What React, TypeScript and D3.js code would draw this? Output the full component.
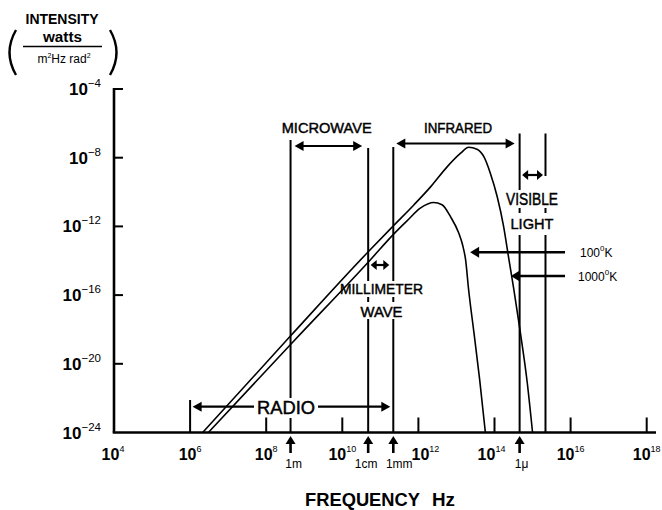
import React from 'react';
import * as d3 from 'd3';

// exponents (10^n)
const FREQ_TICKS = [4, 6, 8, 10, 12, 14, 16, 18];
const INTENSITY_TICKS = [-4, -8, -12, -16, -20, -24];
const WAVE_LABELS = ['1m', '1cm', '1mm', '1\u03bc'];
const WAVE_FREQS = [8.64, 10.68, 11.34, 14.66];
const RADIO_EDGE = 6.0;
const VISIBLE_EDGE = 15.34;
const TEMP_LABELS = ['100', '1000'];
const TEMP_ARROW_TIPS = [13.36, 14.43];

// [log10 freq, log10 intensity]
const CURVE_1000K: [number, number][] = [
  [6.33, -24], [8.63, -18.4], [10.65, -13.55], [11.35, -11.95], [11.88, -10.75],
  [12.32, -9.7], [12.76, -8.52], [13.11, -7.74], [13.32, -7.39], [13.54, -7.51],
  [13.72, -7.94], [13.89, -8.9], [14.07, -10.26], [14.24, -12.01], [14.38, -13.94],
  [14.51, -15.69], [14.68, -18.19], [14.86, -21.09], [15.0, -24],
];
const CURVE_100K: [number, number][] = [
  [6.48, -24], [8.72, -18.69], [10.74, -13.94], [11.35, -12.45], [11.7, -11.68],
  [12.05, -10.94], [12.4, -10.61], [12.62, -10.74], [12.84, -11.42], [13.06, -12.39],
  [13.16, -13.07], [13.24, -13.94], [13.32, -15.69], [13.46, -18.19], [13.61, -20.92],
  [13.76, -24],
];

const FONT = '"Liberation Sans", Arial, Helvetica, sans-serif';

const x = d3.scaleLinear().domain([4, 18]).range([114, 646.7]);
const y = d3.scaleLinear().domain([-24, -4]).range([432.5, 89]);

// small nudges so labels sit like the scan
const WAVE_LABEL_SHIFT = [3, -2, 6, 2];
const FREQ_LABEL_SHIFT: Record<number, number> = { 4: -1, 12: 7, 14: -3 };

function head(px: number, py: number, dir: 'l' | 'r' | 'u', len: number, half: number) {
  if (dir === 'l') return `M${px},${py}L${px + len},${py - half}L${px + len},${py + half}Z`;
  if (dir === 'r') return `M${px},${py}L${px - len},${py - half}L${px - len},${py + half}Z`;
  return `M${px},${py}L${px - half},${py + len}L${px + half},${py + len}Z`;
}

function DoubleArrow({ x1, x2, yy, len = 9, half = 5 }: any) {
  return (
    <g>
      <line x1={x1 + len - 1} x2={x2 - len + 1} y1={yy} y2={yy} stroke="#000" strokeWidth={2.2} />
      <path d={head(x1, yy, 'l', len, half)} fill="#000" />
      <path d={head(x2, yy, 'r', len, half)} fill="#000" />
    </g>
  );
}

function VSegs({ xx, segs }: { xx: number; segs: [number, number][] }) {
  return (
    <g>
      {segs.map((s, i) => (
        <line key={i} x1={xx} x2={xx} y1={s[0]} y2={s[1]} stroke="#000" strokeWidth={2} />
      ))}
    </g>
  );
}

// band labels are a bit heavier than regular weight in the scan
const heavy = { stroke: '#000', strokeWidth: 0.45 };

export default function App() {
  const line = d3
    .line<[number, number]>()
    .x((d) => x(d[0]))
    .y((d) => y(d[1]))
    .curve(d3.curveMonotoneX);

  const axisY = y(-24);
  const xm = WAVE_FREQS.map((f) => x(f));
  const xRadio = x(RADIO_EDGE);
  const xVis = x(VISIBLE_EDGE);

  return (
    <svg
      width={662}
      height={510}
      style={{ position: 'absolute', left: 0, top: 0, background: '#fff' }}
      fontFamily={FONT}
    >
      {/* y axis title */}
      <text x={62} y={23.5} textAnchor="middle" fontSize={14} fontWeight="bold" textLength={73} lengthAdjust="spacingAndGlyphs">INTENSITY</text>
      <text x={62.5} y={42} textAnchor="middle" fontSize={14} fontWeight="bold" textLength={39} lengthAdjust="spacingAndGlyphs">watts</text>
      <line x1={23} x2={102} y1={46.5} y2={46.5} stroke="#000" strokeWidth={1.5} />
      <text x={64} y={63} textAnchor="middle" fontSize={12}>
        m<tspan dy={-5} fontSize={7}>2</tspan>
        <tspan dy={5}>Hz rad</tspan>
        <tspan dy={-5} fontSize={7}>2</tspan>
      </text>
      <path d="M16,30 Q3,52.5 16,75" fill="none" stroke="#000" strokeWidth={2.4} />
      <path d="M110,30 Q123,52.5 110,75" fill="none" stroke="#000" strokeWidth={2.4} />

      {/* curves */}
      <path d={line(CURVE_1000K) || ''} fill="none" stroke="#000" strokeWidth={1.6} />
      <path d={line(CURVE_100K) || ''} fill="none" stroke="#000" strokeWidth={1.6} />

      {/* axes */}
      <line x1={114} x2={114} y1={y(-4) - 1} y2={axisY} stroke="#000" strokeWidth={2.6} />
      <line x1={112.7} x2={656} y1={axisY} y2={axisY} stroke="#000" strokeWidth={2.6} />
      {INTENSITY_TICKS.map((t) => (
        <g key={t}>
          {t > -24 && <line x1={114} x2={123} y1={y(t)} y2={y(t)} stroke="#000" strokeWidth={2} />}
          <text x={101} y={y(t) + 6} textAnchor="end" fontSize={17} fontWeight="bold">
            10<tspan dy={-8} fontSize={11.5} fontWeight="normal">{`\u2212${-t}`}</tspan>
          </text>
        </g>
      ))}
      {FREQ_TICKS.map((t) => (
        <g key={t}>
          {t > 6 && <line x1={x(t)} x2={x(t)} y1={axisY} y2={axisY - 15} stroke="#000" strokeWidth={2} />}
          <text x={x(t) + (FREQ_LABEL_SHIFT[t] || 0)} y={460} textAnchor="middle" fontSize={16} fontWeight="bold">
            10<tspan dy={-8} fontSize={9} fontWeight="normal">{t}</tspan>
          </text>
        </g>
      ))}
      <text x={305} y={506} fontSize={19} fontWeight="bold" textLength={115} lengthAdjust="spacingAndGlyphs">FREQUENCY</text>
      <text x={432} y={506} fontSize={19} fontWeight="bold" textLength={23} lengthAdjust="spacingAndGlyphs">Hz</text>

      {/* wavelength markers below axis */}
      {xm.map((xx, i) => (
        <g key={i}>
          <path d={head(xx, 436, 'u', 8, 5)} fill="#000" />
          <line x1={xx} x2={xx} y1={443} y2={453} stroke="#000" strokeWidth={2.6} />
          <text x={xx + WAVE_LABEL_SHIFT[i]} y={468} textAnchor="middle" fontSize={12}>{WAVE_LABELS[i]}</text>
        </g>
      ))}

      {/* band boundary lines */}
      <VSegs xx={xRadio} segs={[[400, axisY]]} />
      <VSegs xx={xm[0]} segs={[[140, 398], [418, axisY]]} />
      <VSegs xx={xm[1]} segs={[[148, 281], [297, 302], [319, axisY]]} />
      <VSegs xx={xm[2]} segs={[[147, 281], [297, 302], [319, axisY]]} />
      <VSegs xx={xm[3]} segs={[[133.5, 190], [208, 213], [235, axisY]]} />
      <VSegs xx={xVis} segs={[[133.5, 176], [208, 213], [235, axisY]]} />

      {/* band arrows */}
      <DoubleArrow x1={xm[0] + 4} x2={xm[1] - 6} yy={146} />
      <DoubleArrow x1={xm[2] + 3} x2={xm[3] - 5} yy={143.5} />
      <DoubleArrow x1={xm[3] + 2.5} x2={xVis - 2.5} yy={175} len={6} half={5} />
      <DoubleArrow x1={xm[1] + 2.5} x2={xm[2] - 4} yy={265} len={6} half={5} />

      {/* radio */}
      <line x1={xRadio + 8} x2={254} y1={406.7} y2={406.7} stroke="#000" strokeWidth={2.2} />
      <line x1={318} x2={xm[2] - 10} y1={406.7} y2={406.7} stroke="#000" strokeWidth={2.2} />
      <path d={head(xRadio + 2.5, 406.7, 'l', 9, 5)} fill="#000" />
      <path d={head(xm[2] - 3, 406.7, 'r', 9, 5)} fill="#000" />
      <text x={286} y={413.5} textAnchor="middle" fontSize={18} textLength={58} lengthAdjust="spacingAndGlyphs" {...heavy}>RADIO</text>

      {/* band labels */}
      <text x={326.7} y={133} textAnchor="middle" fontSize={15} textLength={90} lengthAdjust="spacingAndGlyphs" {...heavy}>MICROWAVE</text>
      <text x={458} y={132.5} textAnchor="middle" fontSize={14} textLength={68} lengthAdjust="spacingAndGlyphs" {...heavy}>INFRARED</text>
      <text x={532} y={205} textAnchor="middle" fontSize={16} textLength={52} lengthAdjust="spacingAndGlyphs" {...heavy}>VISIBLE</text>
      <text x={532} y={229} textAnchor="middle" fontSize={15.5} textLength={43} lengthAdjust="spacingAndGlyphs" {...heavy}>LIGHT</text>
      <text x={381.5} y={294} textAnchor="middle" fontSize={14.5} textLength={83} lengthAdjust="spacingAndGlyphs" {...heavy}>MILLIMETER</text>
      <text x={381.5} y={316.5} textAnchor="middle" fontSize={15} textLength={42} lengthAdjust="spacingAndGlyphs" {...heavy}>WAVE</text>

      {/* temperature arrows */}
      {TEMP_LABELS.map((lab, i) => {
        const yy = i === 0 ? 252.3 : 276;
        const tip = x(TEMP_ARROW_TIPS[i]);
        return (
          <g key={lab}>
            <line x1={tip + 8} x2={565} y1={yy} y2={yy} stroke="#000" strokeWidth={2.4} />
            <path d={head(tip, yy, 'l', 9, 5.5)} fill="#000" />
            <text x={i === 0 ? 580 : 578} y={yy + 5} fontSize={12}>
              {lab}
              <tspan dy={-6} fontSize={8}>0</tspan>
              <tspan dy={6}>K</tspan>
            </text>
          </g>
        );
      })}
    </svg>
  );
}
